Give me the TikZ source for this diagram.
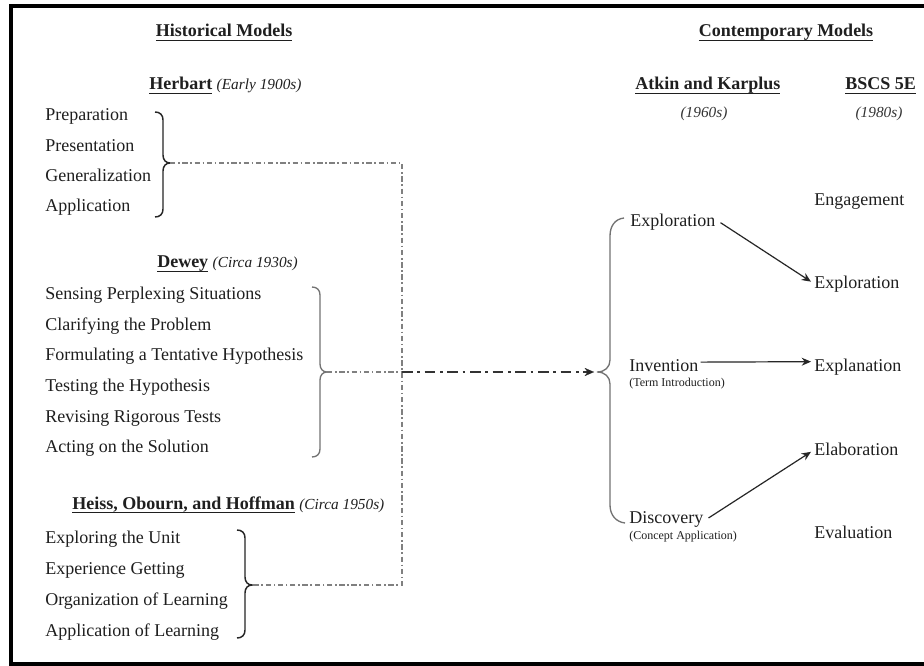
\documentclass[tikz,border=0pt]{standalone}
\usepackage{fontspec}
\setmainfont{Liberation Serif}
\usetikzlibrary{arrows.meta,calc}
\newcommand\hul[1]{\setbox0\hbox{#1}\rlap{\rule[-2.6pt]{\wd0}{0.7pt}}\box0\relax}
\newcommand\dt{\fontsize{11.5}{13}\selectfont\mdseries\itshape}
% right-facing brace: #1 spine x, #2 top y, #3 tip y, #4 bottom y, #5 style
\newcommand\bracer[5]{%
 \draw[#5] ({#1-8},#2) .. controls ({#1-3},#2) and (#1,{#2+3}) .. (#1,{#2+8})
   -- (#1,{#3-8}) .. controls (#1,{#3-3}) and ({#1+3},#3) .. ({#1+7},#3)
   .. controls ({#1+3},#3) and (#1,{#3+3}) .. (#1,{#3+8})
   -- (#1,{#4-8}) .. controls (#1,{#4-3}) and ({#1-3},#4) .. ({#1-8},#4);}
\begin{document}
\begin{tikzpicture}[x=0.75pt,y=-0.75pt,
  txt/.style={anchor=base west,inner sep=0pt,text=black!88,font=\fontsize{13.5}{16}\selectfont},
  hd/.style={anchor=base west,inner sep=0pt,text=black!88,font=\fontsize{13.5}{16}\selectfont\bfseries},
  hdc/.style={hd,anchor=base},
  dtc/.style={anchor=base,inner sep=0pt,text=black!80,font=\dt},
  sm/.style={anchor=base west,inner sep=0pt,text=black!88,font=\fontsize{9}{10}\selectfont},
  brk/.style={line width=1.1pt,black!85},
  brg/.style={line width=1pt,black!55},
  ddl/.style={line width=0.9pt,black!50,dash pattern=on 4pt off 2pt on 1.2pt off 2pt},
  ddr/.style={line width=1pt,black!80,dash pattern=on 8pt off 3.5pt on 2pt off 3.5pt},
  arr/.style={line width=0.9pt,black!85,-{Stealth[length=7pt,width=6pt]}}]
\useasboundingbox (0,0) rectangle (924,666);
\clip (0,0) rectangle (924,666);
\fill[white] (0,0) rectangle (924,666);
\draw[line width=3pt] (11,6) rectangle (990,664);

% ---------- historical ----------
\node[hdc] (hist) at (224,37) {\hul{Historical Models}};
\node[hd] (herb) at (149,90) {\hul{Herbart} {\dt (Early 1900s)}};
\foreach \t [count=\i] in {Preparation,Presentation,Generalization,Application}
  \node[txt] (h\i) at (45,{121+30.3*(\i-1)}) {\t};
\node[hd] (dew) at (157,268) {\hul{Dewey} {\dt (Circa 1930s)}};
\foreach \t [count=\i] in {Sensing Perplexing Situations,Clarifying the Problem,Formulating a Tentative Hypothesis,Testing the Hypothesis,Revising Rigorous Tests,Acting on the Solution}
  \node[txt] (d\i) at (45,{300+30.5*(\i-1)}) {\t};
\node[hd] (heiss) at (72,509) {\hul{Heiss, Obourn, and Hoffman} {\dt (Circa 1950s)}};
\foreach \t [count=\i] in {Exploring the Unit,Experience Getting,Organization of Learning,Application of Learning}
  \node[txt] (e\i) at (45,{543+31.3*(\i-1)}) {\t};

% braces
\bracer{163}{112}{163}{217}{brk}
\bracer{320}{287}{372}{457}{brg}
\bracer{245}{530}{585}{638}{brk}
\coordinate (hbTip) at (170,163);
\coordinate (dbTip) at (327,372);
\coordinate (ebTip) at (252,585);
\coordinate (cTop) at (402,163);
\coordinate (cMid) at (402,372);
\coordinate (cBot) at (402,585);
\coordinate (rbTip) at (597,372);

\draw[ddl] (hbTip) -- (cTop) -- (cBot) -- (ebTip);
\draw[ddl] (dbTip) -- (cMid);
\draw[ddr] (cMid) -- ($(rbTip)+(-8,0)$);
\draw[arr,line width=0.1pt] ($(rbTip)+(-9,0)$) -- ($(rbTip)+(-3,0)$);

% ---------- contemporary ----------
\node[hdc] (cont) at (786,37) {\hul{Contemporary Models}};
\node[hd] (atk) at (635,90) {\hul{Atkin and Karplus}};
\node[hd] (bscs) at (845,90) {\hul{BSCS 5E}};
\node[dtc] (d60) at (704,118) {(1960s)};
\node[dtc] (d80) at (879,118) {(1980s)};

\draw[brg] (624,218) .. controls (615,219) and (610,226) .. (610,236)
  -- (610,360) .. controls (610,367) and (605,372) .. (rbTip)
  .. controls (605,372) and (610,377) .. (610,384)
  -- (610,505) .. controls (610,515) and (616,522) .. (625,523);

\node[txt] (exA) at (630,227) {Exploration};
\node[txt] (inv) at (629,372) {Invention};
\node[sm] (invs) at (629,387) {(Term Introduction)};
\node[txt] (disc) at (629,523) {Discovery};
\node[sm] (discs) at (629,539) {(Concept Application)};

\node[txt] (eng) at (814,206) {Engagement};
\node[txt] (exB) at (814,289) {Exploration};
\node[txt] (expl) at (814,372) {Explanation};
\node[txt] (elab) at (814,455) {Elaboration};
\node[txt] (eval) at (814,538) {Evaluation};

\draw[arr] ($(exA.east)+(5,0)$) -- ($(exB.west)+(-3,-3)$);
\draw[arr] ($(inv.east)+(2,-4)$) -- ($(expl.west)+(-3,-6)$);
\draw[arr] ($(disc.east)+(5,-1)$) -- ($(elab.west)+(-3,3)$);
\end{tikzpicture}
\end{document}
